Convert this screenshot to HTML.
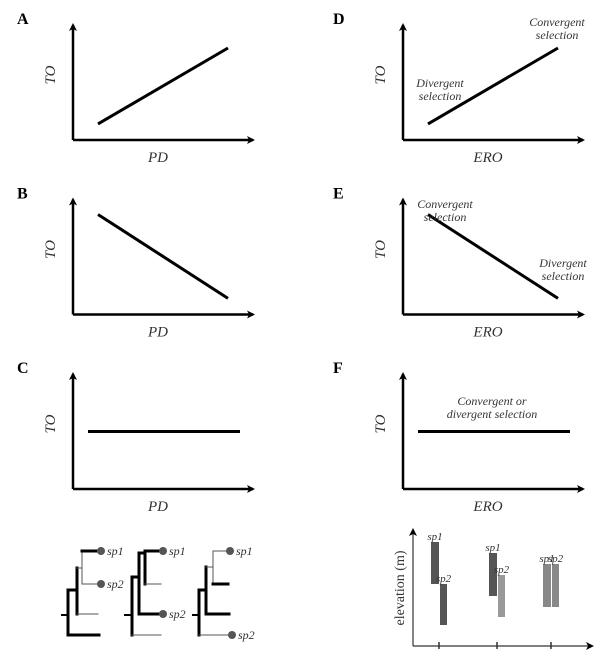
<!DOCTYPE html>
<html><head><meta charset="utf-8"><style>
html,body{margin:0;padding:0;background:#fff;width:600px;height:654px;overflow:hidden}
svg text{font-family:"Liberation Serif",serif}
.it{font-style:italic;fill:#333}
</style></head><body>
<svg id="fig" width="600" height="654" viewBox="0 0 600 654" xmlns="http://www.w3.org/2000/svg">
<defs><marker id="ar" markerWidth="8" markerHeight="8" refX="6" refY="4" orient="auto" markerUnits="userSpaceOnUse"><path d="M0,0 L8,4 L0,8 L2,4 Z" fill="#000"/></marker></defs>
<g id="panels"></g>
<g id="trees"></g>
<g id="elev"></g>
</svg>
<script>
// panel data: [label, x-axis name, start value, end value] on 0..1 scale
const panelLabels = ['A','B','C','D','E','F'];
const xNames = ['PD','PD','PD','ERO','ERO','ERO'];
const lineStart = [0.14, 0.87, 0.50, 0.14, 0.87, 0.50];
const lineEnd = [0.80, 0.14, 0.50, 0.80, 0.14, 0.50];
// elevation ranges (low, high) per species bar
const elevGroups = ['g1','g1','g2','g2','g3','g3'];
const elevLow = [62, 21, 50, 29, 39, 39];
const elevHigh = [104, 62, 93, 71, 82, 82];
const elevSpecies = ['sp1','sp2','sp1','sp2','sp1','sp2'];

const NS='http://www.w3.org/2000/svg';
function mk(tag,attrs,parent,txt){const e=document.createElementNS(NS,tag);for(const k in attrs)e.setAttribute(k,attrs[k]);if(txt!==undefined)e.textContent=txt;parent.appendChild(e);return e;}
const P=document.getElementById('panels');
panelLabels.forEach((lab,i)=>{
  const col=i<3?0:1,row=i%3;
  const ox=col?403:73, oy=140+row*174.5, top=oy-115;
  const g=mk('g',{},P);
  
  
  const t=mk('text',{x:col?333:17,y:top-1,'font-size':16,'font-weight':'bold'},g,lab);
  
  
  const ya=mk('line',{x1:ox,y1:oy,x2:ox,y2:top,stroke:'#000','stroke-width':2.5,'marker-end':'url(#ar)'},g);
  
  
  const xa=mk('line',{x1:ox,y1:oy,x2:ox+180,y2:oy,stroke:'#000','stroke-width':2.5,'marker-end':'url(#ar)'},g);
  
  
  const xl=mk('text',{x:ox+85,y:oy+22,'font-size':15,'text-anchor':'middle',class:'it'},g,xNames[i]);
  
  
  const yl=mk('text',{x:0,y:0,'font-size':15,'text-anchor':'middle',class:'it',transform:`translate(${ox-18},${oy-65}) rotate(-90)`},g,'TO');
  
  
  const yS=v=>oy-v*115;
  const flat=lineStart[i]===lineEnd[i];
  const x1=flat?ox+15:ox+25, x2=flat?ox+167:ox+155;
  const ln=mk('line',{x1:x1,y1:yS(lineStart[i]),x2:x2,y2:yS(lineEnd[i]),stroke:'#000','stroke-width':3},g);
  
  
});
function note(x,y,lines,anchor){const t=mk('text',{x:x,y:y,'font-size':12,'text-anchor':anchor||'middle',class:'it'},P);


lines.forEach((s,k)=>mk('tspan',{x:x,dy:k?13:0},t,s));}
note(440,87,['Divergent','selection']);
note(557,26,['Convergent','selection']);
note(445,208,['Convergent','selection']);
note(563,267,['Divergent','selection']);
note(492,405,['Convergent or','divergent selection']);

// trees
const T=document.getElementById('trees');
function seg(a,b,c,d,w,col){mk('line',{x1:a,y1:b,x2:c,y2:d,stroke:col||'#000','stroke-width':w,'stroke-linecap':'square'},T);}
function dot(x,y,lab){mk('circle',{cx:x,cy:y,r:4,fill:'#555'},T);const t=mk('text',{x:x+6,y:y+4,'font-size':12,class:'it'},T,lab);

}
// tree1
seg(62,615,68,615,2);seg(68,590,68,635,3);seg(68,635,99,635,3);seg(68,590,77,590,3);
seg(77,568,77,614,3);seg(77,614,98,614,1,'#555');seg(77,568,82,568,1,'#555');seg(82,551,82,584,1,'#555');
seg(82,551,100,551,3);seg(82,584,100,584,1,'#555');dot(101,551,'sp1');dot(101,584,'sp2');
// tree2
seg(125,615,132,615,2);seg(132,577,132,635,3);seg(132,635,161,635,1,'#555');seg(132,577,139,577,3);
seg(139,553,139,614,3);seg(139,614,163,614,3);seg(139,553,145,553,3);seg(145,551,145,584,3);
seg(145,551,163,551,3);seg(145,584,161,584,1,'#555');dot(163,551,'sp1');dot(163,614,'sp2');
// tree3
seg(193,615,199,615,2);seg(199,590,199,635,3);seg(199,635,232,635,1,'#555');seg(199,590,206,590,3);
seg(206,567,206,614,3);seg(206,614,229,614,3);seg(206,567,213,567,1,'#555');seg(213,551,213,584,1,'#555');
seg(213,551,230,551,1,'#555');seg(213,584,228,584,3);dot(230,551,'sp1');dot(232,635,'sp2');

// elevation chart
const E=document.getElementById('elev');
const ox=413, oy=646;
const yE=v=>oy-v;
const groupX={g1:439,g2:497,g3:551};
const ya=mk('line',{x1:ox,y1:oy,x2:ox,y2:530,stroke:'#333','stroke-width':1.2,'marker-end':'url(#ar)'},E);


const xa=mk('line',{x1:ox,y1:oy,x2:592,y2:oy,stroke:'#333','stroke-width':1.2,'marker-end':'url(#ar)'},E);


const yt=mk('text',{x:0,y:0,'font-size':14,'text-anchor':'middle',fill:'#333',transform:`translate(404,588) rotate(-90)`},E,'elevation (m)');


Object.keys(groupX).forEach(k=>{const tk=mk('line',{x1:groupX[k],y1:oy-4,x2:groupX[k],y2:oy+3,stroke:'#333','stroke-width':1.5},E);

});
elevLow.forEach((lo,i)=>{
  const gx=groupX[elevGroups[i]], first=elevSpecies[i]==='sp1';
  const x=first?gx-8:gx+1, w=first?8:7;
  const fill=(i===3)?'#999':(i>=4?'#888':'#555');
  const r=mk('rect',{x:x,y:yE(elevHigh[i]),width:w,height:elevHigh[i]-lo,fill:fill},E);
  
  
  const t=mk('text',{x:x+w/2,y:yE(elevHigh[i])-2,'font-size':11,'text-anchor':'middle',class:'it'},E,elevSpecies[i]);
  
  
});
</script>
</body></html>
